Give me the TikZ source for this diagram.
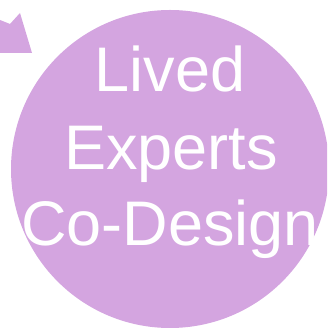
\documentclass[tikz,border=0pt]{standalone}
\usepackage{fontspec}
\setmainfont{Liberation Sans}
\usepackage{xcolor}
\definecolor{LEPurple}{HTML}{D4A5E0}
\tikzset{
  bigword/.style={text=white,inner sep=0pt,font=\fontsize{63}{75}\selectfont}
}

\begin{document}
\begin{tikzpicture}[x=1pt,y=1pt]
\path[use as bounding box] (0,0) rectangle (327,328);
\clip (0,0) rectangle (327,328);
% arrow head coming in from the left
\fill[LEPurple] (-10,312) -- (10,304) -- (20,315) -- (32,275) -- (-10,275) -- cycle;
% the big circle
\fill[LEPurple] (170,159) circle (159);
\node[bigword,anchor=base] (lived) at (170,236) {Lived};
\node[bigword,anchor=base] (experts) at (171,158) {Experts};
\node[bigword,anchor=base] (codesign) at (170,82) {Co-Design};
\end{tikzpicture}
\end{document}
